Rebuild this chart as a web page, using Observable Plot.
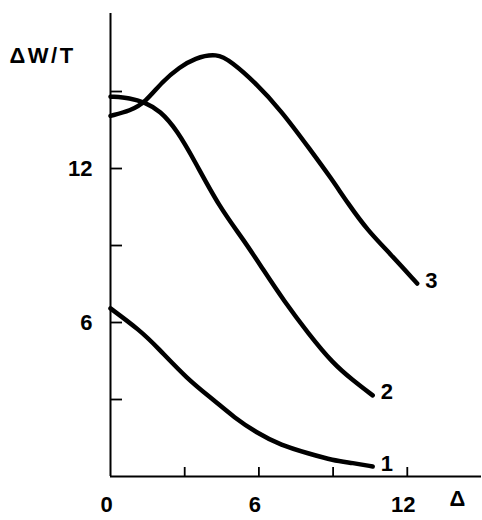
<!DOCTYPE html>
<html>
<head>
<meta charset="utf-8">
<script src="https://cdn.jsdelivr.net/npm/d3@7"></script>
<script src="https://cdn.jsdelivr.net/npm/@observablehq/plot@0.6"></script>
<style>
  html, body { margin: 0; padding: 0; background: #fff; }
  #chart svg { display: block; }
  .ylab text { letter-spacing: 2.5px; }
</style>
</head>
<body>
<div id="chart"></div>
<script>
// Curve 1
const x1 = [0, 1.2, 1.9, 3.1, 4.2, 5.0, 5.9, 6.9, 8.0, 9.0, 9.8, 10.6];
const y1 = [6.55, 5.69, 5.03, 3.8, 2.96, 2.3, 1.71, 1.21, 0.9, 0.62, 0.53, 0.39];
// Curve 2
const x2 = [0, 0.8, 1.4, 2.0, 2.7, 3.4, 4.4, 5.4, 6.2, 7.0, 8.0, 9.0, 9.8, 10.6];
const y2 = [14.8, 14.75, 14.57, 14.26, 13.48, 12.3, 10.5, 9.2, 8.02, 6.86, 5.57, 4.4, 3.75, 3.16];
// Curve 3
const x3 = [0, 0.8, 1.4, 2.1, 2.8, 3.4, 4.3, 4.9, 5.8, 6.9, 8.1, 8.9, 9.6, 10.4, 11.3, 12.4];
const y3 = [14.05, 14.25, 14.57, 15.4, 15.95, 16.3, 16.5, 16.15, 15.4, 14.26, 12.7, 11.65, 10.64, 9.58, 8.69, 7.52];

const curveNames = ["1", "2", "3"];
const xTicks = [3, 6, 9, 12];
const xTickLabels = [0, 6, 12];
const yTicks = [3, 6, 9, 12, 15];
const yTickLabels = [6, 12];
const xLabel = "Δ";
const yLabel = "ΔW/T";

const series = [[x1, y1], [x2, y2], [x3, y3]];
const data = series.flatMap(([xs, ys], i) => xs.map((x, j) => ({x, y: ys[j], c: curveNames[i]})));
const ends = series.map(([xs, ys], i) => ({x: xs[xs.length - 1], y: ys[ys.length - 1], c: curveNames[i]}));

const font = "'Liberation Sans', Arial, sans-serif";
const fs = 22;

const chart = Plot.plot({
  width: 482,
  height: 520,
  marginLeft: 110,
  marginRight: 1,
  marginTop: 13,
  marginBottom: 44,
  style: {fontFamily: font, background: "#fff", color: "#000"},
  x: {domain: [0, 15], axis: null},
  y: {domain: [0, 18.04], axis: null},
  marks: [
    Plot.ruleX([0], {stroke: "#000", strokeWidth: 2}),
    Plot.ruleY([0], {stroke: "#000", strokeWidth: 2}),
    Plot.axisX(xTicks, {label: null, tickSize: -9, tickFormat: () => "", stroke: "#000", strokeWidth: 1.8}),
    Plot.axisX(xTickLabels, {label: null, tickSize: 0, tickPadding: 20, dx: -4, fontSize: fs, fontWeight: "bold", fill: "#000"}),
    Plot.axisY(yTicks, {label: null, tickSize: -12, tickFormat: () => "", stroke: "#000", strokeWidth: 1.8}),
    Plot.axisY(yTickLabels, {label: null, tickSize: 0, tickPadding: 18, fontSize: fs, fontWeight: "bold", fill: "#000"}),
    Plot.line(data, {x: "x", y: "y", z: "c", curve: "basis", stroke: "#000", strokeWidth: 4.5, strokeLinecap: "round", strokeLinejoin: "round"}),
    Plot.text(ends, {x: "x", y: "y", text: "c", textAnchor: "start", dx: 8, dy: -3, fontSize: fs, fontWeight: "bold", fill: "#000"}),
    Plot.text([xLabel], {frameAnchor: "bottom-right", textAnchor: "middle", dx: -24, dy: 29, fontSize: fs, fontWeight: "bold", fill: "#000"}),
    Plot.text([yLabel], {frameAnchor: "top-left", textAnchor: "start", dx: -101, dy: 34, fontSize: fs, fontWeight: "bold", fill: "#000", className: "ylab"})
  ]
});
document.getElementById("chart").appendChild(chart);
</script>
</body>
</html>
